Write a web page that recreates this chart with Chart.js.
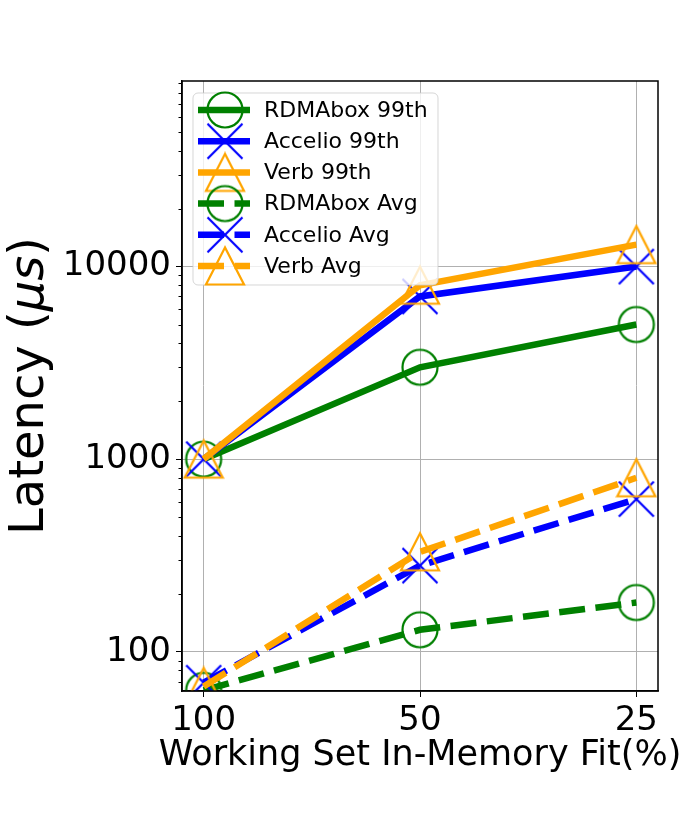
<!DOCTYPE html>
<html>
<head>
<meta charset="utf-8">
<script src="https://cdn.jsdelivr.net/npm/chart.js@4.4.0/dist/chart.umd.min.js"></script>
<style>
  body { margin: 0; background: #fff; }
  canvas { display: block; }
</style>
</head>
<body>
<canvas id="myChart" width="700" height="813"></canvas>
<script>
// data
var categories = ['100', '50', '25'];
var seriesNames = ['RDMAbox 99th', 'Accelio 99th', 'Verb 99th', 'RDMAbox Avg', 'Accelio Avg', 'Verb Avg'];
var rdmabox99 = [1000, 3000, 5000];
var accelio99 = [1000, 7000, 10000];
var verb99 = [1000, 8000, 13000];
var rdmaboxAvg = [63, 130, 180];
var accelioAvg = [69, 280, 620];
var verbAvg = [66, 330, 800];
var yMajorTicks = [100, 1000, 10000];
var xTitle = 'Working Set In-Memory Fit(%)';

var FONT = 'DejaVu Sans';
var GREEN = '#008000', BLUE = '#0000ff', ORANGE = '#ffa500';

// hollow markers like matplotlib's 'o', 'x', '^'
function makeMarker(kind, color) {
    var c = document.createElement('canvas');
    c.width = 42; c.height = 42;
    var g = c.getContext('2d');
    g.strokeStyle = color;
    g.lineWidth = 2.2;
    g.beginPath();
    if (kind === 'o') {
        g.arc(21, 21, 17.5, 0, Math.PI * 2);
    } else if (kind === 'x') {
        g.moveTo(3.5, 3.5); g.lineTo(38.5, 38.5);
        g.moveTo(38.5, 3.5); g.lineTo(3.5, 38.5);
    } else {
        g.moveTo(21, 2.5); g.lineTo(2, 39.5); g.lineTo(40, 39.5); g.closePath();
    }
    g.stroke();
    return c;
}

var values = [rdmabox99, accelio99, verb99, rdmaboxAvg, accelioAvg, verbAvg];
var colors = [GREEN, BLUE, ORANGE, GREEN, BLUE, ORANGE];
var markers = ['o', 'x', '^', 'o', 'x', '^'];
var dashed = [false, false, false, true, true, true];
var DASH = [26, 10.5];

var datasets = seriesNames.map(function (name, i) {
    return {
        label: name,
        data: values[i].map(function (v, j) { return { x: j, y: v }; }),
        borderColor: colors[i],
        backgroundColor: colors[i],
        borderWidth: 6.5,
        borderDash: dashed[i] ? DASH : [],
        borderCapStyle: 'butt',
        pointStyle: makeMarker(markers[i], colors[i]),
        pointRadius: 18,
        pointHoverRadius: 18,
        fill: false,
        tension: 0,
        clip: 0,
        order: seriesNames.length - i
    };
});

function isMajor(v) { return yMajorTicks.indexOf(v) >= 0; }

// frame around the plot area, short minor ticks, axis titles
var framePlugin = {
    id: 'frame',
    afterDatasetsDraw: function (chart) {
        var a = chart.chartArea, c = chart.ctx, ys = chart.scales.y;
        c.save();
        c.strokeStyle = '#000';
        c.lineWidth = 1.5;
        c.strokeRect(a.left, a.top, a.right - a.left, a.bottom - a.top);
        c.lineWidth = 1;
        ys.ticks.forEach(function (t) {
            if (isMajor(t.value)) return;
            var py = Math.round(ys.getPixelForValue(t.value)) + 0.5;
            c.beginPath();
            c.moveTo(a.left - 3.5, py);
            c.lineTo(a.left, py);
            c.stroke();
        });

        c.fillStyle = '#000';
        c.textBaseline = 'alphabetic';
        c.textAlign = 'center';
        c.font = '35px "' + FONT + '"';
        c.fillText(xTitle, (a.left + a.right) / 2, 765);

        // "Latency (" + italic "μs" + ")"
        var parts = [['Latency (', 'normal'], ['μs', 'italic'], [')', 'normal']];
        var total = 0;
        parts.forEach(function (p) {
            c.font = p[1] + ' 48px "' + FONT + '"';
            p.push(c.measureText(p[0]).width);
            total += p[2];
        });
        c.translate(43, (a.top + a.bottom) / 2);
        c.rotate(-Math.PI / 2);
        c.textAlign = 'left';
        var x = -total / 2;
        parts.forEach(function (p) {
            c.font = p[1] + ' 48px "' + FONT + '"';
            c.fillText(p[0], x, 0);
            x += p[2];
        });
        c.restore();
    }
};

// legend box inside the axes, line + marker samples
var legendPlugin = {
    id: 'mplLegend',
    afterDraw: function (chart) {
        var c = chart.ctx;
        var x0 = 193, y0 = 93, w = 245, h = 192, r = 5;
        c.save();
        c.beginPath();
        c.moveTo(x0 + r, y0);
        c.arcTo(x0 + w, y0, x0 + w, y0 + h, r);
        c.arcTo(x0 + w, y0 + h, x0, y0 + h, r);
        c.arcTo(x0, y0 + h, x0, y0, r);
        c.arcTo(x0, y0, x0 + w, y0, r);
        c.closePath();
        c.fillStyle = 'rgba(255,255,255,0.8)';
        c.fill();
        c.strokeStyle = 'rgba(204,204,204,0.8)';
        c.lineWidth = 1;
        c.stroke();

        chart.data.datasets.forEach(function (ds, i) {
            var y = 110 + i * 31.2;
            c.beginPath();
            c.setLineDash(ds.borderDash || []);
            c.strokeStyle = ds.borderColor;
            c.lineWidth = 6.5;
            c.lineCap = 'butt';
            c.moveTo(198, y);
            c.lineTo(250, y);
            c.stroke();
            c.setLineDash([]);
            c.drawImage(ds.pointStyle, 225 - 21, y - 21);
            c.fillStyle = '#000';
            c.font = '22px "' + FONT + '"';
            c.textBaseline = 'middle';
            c.textAlign = 'left';
            c.fillText(ds.label, 264, y + 1);
        });
        c.restore();
    }
};

var ctx = document.getElementById('myChart').getContext('2d');
var myChart = new Chart(ctx, {
    type: 'line',
    data: { datasets: datasets },
    plugins: [framePlugin, legendPlugin],
    options: {
        responsive: false,
        animation: false,
        devicePixelRatio: 1,
        layout: { padding: { top: 81, right: 42, left: 0, bottom: 0 } },
        plugins: {
            legend: { display: false },
            tooltip: { enabled: false }
        },
        scales: {
            x: {
                type: 'linear',
                min: -0.1,
                max: 2.1,
                afterBuildTicks: function (scale) {
                    scale.ticks = categories.map(function (c, i) { return { value: i }; });
                },
                afterFit: function (scale) { scale.height = 122; },
                ticks: {
                    autoSkip: false,
                    maxRotation: 0,
                    padding: 4,
                    color: '#000',
                    font: { family: FONT, size: 34 },
                    callback: function (v) { return categories[v]; }
                },
                grid: { color: '#b0b0b0', lineWidth: 1, tickLength: 6, tickColor: '#000' },
                border: { color: '#000', width: 1.5 },
                title: { display: false }
            },
            y: {
                type: 'logarithmic',
                min: 62.5,
                max: 92000,
                afterBuildTicks: function (scale) {
                    var t = [];
                    [10, 100, 1000, 10000].forEach(function (d) {
                        for (var k = 1; k <= 9; k++) {
                            var v = d * k;
                            if (v >= scale.min && v <= scale.max) t.push({ value: v, major: k === 1 });
                        }
                    });
                    scale.ticks = t;
                },
                afterFit: function (scale) { scale.width = 182; },
                ticks: {
                    autoSkip: false,
                    padding: 5,
                    color: '#000',
                    font: { family: FONT, size: 34 },
                    callback: function (v) { return isMajor(v) ? String(v) : ''; }
                },
                grid: {
                    color: function (c) { return c.tick && isMajor(c.tick.value) ? '#b0b0b0' : 'rgba(0,0,0,0)'; },
                    tickColor: function (c) { return c.tick && isMajor(c.tick.value) ? '#000' : 'rgba(0,0,0,0)'; },
                    lineWidth: 1,
                    tickLength: 6
                },
                border: { color: '#000', width: 1.5 },
                title: { display: false }
            }
        }
    }
});
</script>
</body>
</html>
